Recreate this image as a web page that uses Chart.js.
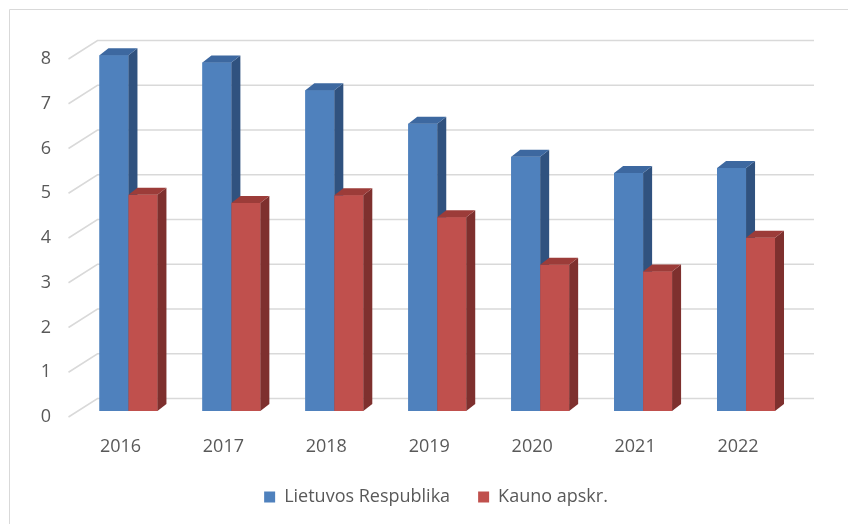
<!DOCTYPE html>
<html>
<head>
<meta charset="utf-8">
<script src="https://cdn.jsdelivr.net/npm/chart.js@4.4.1/dist/chart.umd.min.js"></script>
<style>
  html, body { margin: 0; padding: 0; background: #fff; }
  #wrap { position: relative; width: 848px; height: 524px; }
</style>
</head>
<body>
<div id="wrap"><canvas id="myChart"></canvas></div>
<script>
const years = ['2016', '2017', '2018', '2019', '2020', '2021', '2022'];
const lietuva = [7.95, 7.79, 7.17, 6.42, 5.68, 5.32, 5.43];
const kaunas = [4.83, 4.65, 4.82, 4.33, 3.27, 3.12, 3.87];
const yTicks = [0, 1, 2, 3, 4, 5, 6, 7, 8];

const textColor = '#595959';
const fontName = "'Open Sans', 'Liberation Sans', sans-serif";

// colours for front / side / top faces
const faces = [
  { front: '#4f81bd', side: '#30527f', top: '#3d68a0' },
  { front: '#c0504d', side: '#7e302e', top: '#9c3c39' }
];
const depthX = 9, depthY = 7;

// fake 3D: back wall gridlines, bar sides and tops
const bars3d = {
  id: 'bars3d',
  beforeDatasetsDraw(chart) {
    const c = chart.ctx, area = chart.chartArea, y = chart.scales.y;
    c.save();
    // chart frame (left and top edges only)
    c.strokeStyle = '#d9d9d9';
    c.lineWidth = 1;
    c.beginPath();
    c.moveTo(9.5, 524); c.lineTo(9.5, 9.5); c.lineTo(848, 9.5);
    c.stroke();
    c.lineWidth = 1.5;
    yTicks.forEach(v => {
      const py = y.getPixelForValue(v);
      c.beginPath();
      c.moveTo(area.left - 8.5, py + 6);
      c.lineTo(area.left + 20.5, py - 12.5);
      c.lineTo(area.right + 16.5, py - 12.5);
      c.stroke();
    });
    c.restore();
  },
  afterDatasetsDraw(chart) {
    const c = chart.ctx;
    c.save();
    years.forEach((yr, i) => {
      [0, 1].forEach(d => {
        const el = chart.getDatasetMeta(d).data[i];
        const p = el.getProps(['x', 'y', 'base', 'width'], true);
        const l = p.x - p.width / 2, r = p.x + p.width / 2;
        const f = faces[d];
        c.fillStyle = f.front;
        c.fillRect(l, p.y, p.width, p.base - p.y);
        c.fillStyle = f.side;
        c.beginPath();
        c.moveTo(r, p.y); c.lineTo(r + depthX, p.y - depthY);
        c.lineTo(r + depthX, p.base - depthY); c.lineTo(r, p.base);
        c.closePath(); c.fill();
        c.fillStyle = f.top;
        c.beginPath();
        c.moveTo(l, p.y); c.lineTo(l + depthX, p.y - depthY);
        c.lineTo(r + depthX, p.y - depthY); c.lineTo(r, p.y);
        c.closePath(); c.fill();
      });
    });
    c.restore();
  }
};

new Chart(document.getElementById('myChart'), {
  type: 'bar',
  data: {
    labels: years,
    datasets: [{
      label: 'Lietuvos Respublika',
      data: lietuva,
      backgroundColor: faces[0].front,
      borderWidth: 0
    }, {
      label: 'Kauno apskr.',
      data: kaunas,
      backgroundColor: faces[1].front,
      borderWidth: 0
    }]
  },
  options: {
    responsive: true,
    maintainAspectRatio: false,
    animation: false,
    events: [],
    layout: { padding: { top: 53, right: 0, bottom: 8, left: 24 } },
    datasets: { bar: { categoryPercentage: 0.563, barPercentage: 1.0 } },
    scales: {
      x: {
        grid: { display: false, drawTicks: false },
        border: { display: false },
        ticks: { color: textColor, font: { family: fontName, size: 18 }, padding: 25, labelOffset: -8 },
        afterFit(scale) { scale.height = 49; }
      },
      y: {
        min: 0,
        max: 8,
        grid: { display: false, drawTicks: false },
        border: { display: false },
        ticks: { stepSize: 1, color: textColor, font: { family: fontName, size: 18 }, padding: 26, labelOffset: 6 },
        afterFit(scale) { scale.width = 53; }
      },
      // empty right-hand spacer so the plot ends where the reference does
      spacer: {
        type: 'linear',
        position: 'right',
        grid: { display: false, drawTicks: false },
        border: { display: false },
        ticks: { display: false },
        afterFit(scale) { scale.width = 50.5; }
      }
    },
    plugins: {
      legend: {
        position: 'bottom',
        labels: { color: textColor, font: { family: fontName, size: 18 }, boxWidth: 11, boxHeight: 11, padding: 28 }
      },
      tooltip: { enabled: false }
    }
  },
  plugins: [bars3d]
});
</script>
</body>
</html>
